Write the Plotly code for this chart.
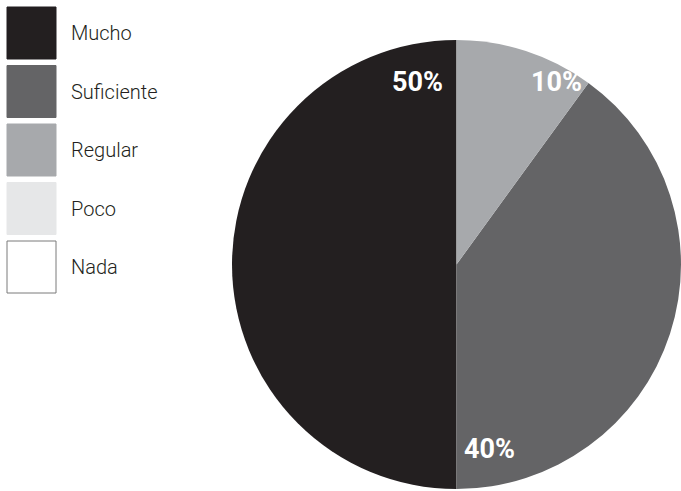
import plotly.graph_objects as go

# Survey answers and their share
labels = ["Mucho", "Suficiente", "Regular", "Poco", "Nada"]
values = [50, 40, 10, 0, 0]
colors = ["#231f20", "#646466", "#a7a9ac", "#e6e7e8", "#ffffff"]

# Where each percentage label sits (paper coordinates)
label_pos = {"Mucho": (417, 82), "Suficiente": (489, 449), "Regular": (556, 82)}

W, H = 681, 491

fig = go.Figure(
    go.Pie(
        labels=labels,
        values=values,
        marker=dict(colors=colors, line=dict(width=0)),
        sort=False,
        direction="counterclockwise",
        rotation=180,
        textinfo="none",
        hoverinfo="label+percent",
        showlegend=False,
        domain=dict(x=[232 / W, 1], y=[0, 1 - 38 / H]),
    )
)

shapes = []
annotations = []
# Legend: large swatches with labels to the right
for i, (lab, col) in enumerate(zip(labels, colors)):
    top = 7 + i * 58.5
    shapes.append(
        dict(
            type="rect", xref="paper", yref="paper",
            x0=7 / W, x1=56 / W, y0=1 - (top + 52) / H, y1=1 - top / H,
            fillcolor=col,
            line=dict(color="#7a7a7a" if col == "#ffffff" else col, width=1),
        )
    )
    annotations.append(
        dict(
            text=lab, xref="paper", yref="paper",
            x=69 / W, y=1 - (top + 26) / H, xanchor="left", yanchor="middle",
            showarrow=False,
            font=dict(family="Roboto, sans-serif", size=20, color="#231f20", weight=300),
        )
    )

# Percentage labels
total = sum(values)
for lab, v in zip(labels, values):
    if lab in label_pos and v > 0:
        px, py = label_pos[lab]
        annotations.append(
            dict(
                text=f"<b>{round(100 * v / total)}%</b>", xref="paper", yref="paper",
                x=px / W, y=1 - py / H, xanchor="center", yanchor="middle",
                showarrow=False,
                font=dict(family="Roboto, sans-serif", size=27, color="#ffffff"),
            )
        )

fig.update_layout(
    width=W, height=H,
    margin=dict(l=0, r=0, t=0, b=0),
    paper_bgcolor="#ffffff",
    plot_bgcolor="#ffffff",
    shapes=shapes,
    annotations=annotations,
)

fig.write_html("out.html")
